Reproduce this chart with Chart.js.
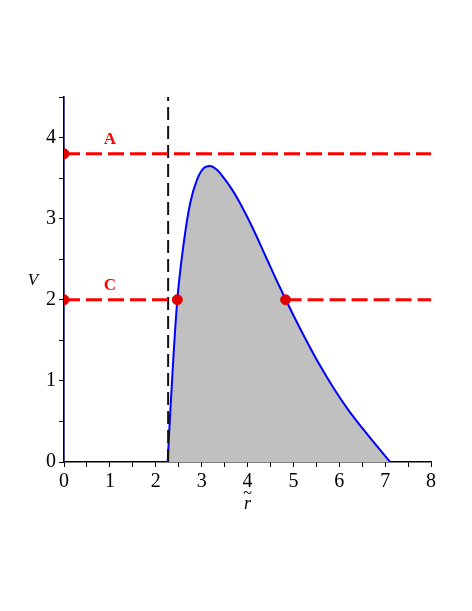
<!DOCTYPE html>
<html lang="en">
<head>
  <meta charset="UTF-8">
  <title>V vs r</title>
  <style>
    body {
      margin: 0;
      background-color: #ffffff;
    }
    canvas {
      display: block;
    }
  </style>
</head>
<body>
  <canvas id="chartCanvas" width="472" height="611"></canvas>

  <script src="https://cdn.jsdelivr.net/npm/chart.js"></script>
  <script>
    // curve
    const curveR = [2.26, 2.31, 2.38, 2.47, 2.61, 2.75, 2.90, 3.04, 3.18, 3.34, 3.50, 3.65, 3.80, 4.10, 4.40, 4.70, 5.00, 5.30, 5.60, 5.90, 6.20, 6.50, 6.80, 7.11];
    const curveV = [0.00, 0.55, 1.25, 2.00, 2.70, 3.19, 3.48, 3.62, 3.65, 3.60, 3.49, 3.37, 3.23, 2.90, 2.53, 2.16, 1.81, 1.48, 1.17, 0.89, 0.64, 0.42, 0.21, 0.00];

    const asymptoteR = 2.27;
    const levelA = 3.8;
    const levelC = 2.0;
    const turningR = [2.47, 4.83];

    const xTicks = [0, 1, 2, 3, 4, 5, 6, 7, 8];
    const yTicks = [0, 1, 2, 3, 4];

    const levelNames = ['A', 'C'];
    const nameAt = [1.0, 1.0];
    const nameV = [3.98, 2.18];

    const serif = "'Liberation Serif', 'DejaVu Serif', serif";
    const red = '#ff0000';

    const curve = curveR.map((r, i) => ({ x: r, y: curveV[i] }));
    const dots = [
      { x: 0, y: levelA },
      { x: 0, y: levelC },
      { x: turningR[0], y: levelC },
      { x: turningR[1], y: levelC }
    ];

    const textPlugin = {
      id: 'texts',
      afterDraw(chart) {
        const c = chart.ctx;
        const xs = chart.scales.x, ys = chart.scales.y;
        c.save();
        c.fillStyle = red;
        c.font = 'bold 17px ' + serif;
        c.textAlign = 'center';
        c.textBaseline = 'middle';
        levelNames.forEach((n, i) => {
          c.fillText(n, xs.getPixelForValue(nameAt[i]), ys.getPixelForValue(nameV[i]));
        });
        c.fillStyle = '#000000';
        c.font = 'italic 17px ' + serif;
        c.fillText('V', 33, 281);
        const rx = xs.getPixelForValue(4);
        c.font = 'italic 18px ' + serif;
        c.fillText('r', rx, 504);
        c.font = '16px ' + serif;
        c.fillText('~', rx, 494);
        c.restore();
      }
    };

    const ctx = document.getElementById('chartCanvas').getContext('2d');
    new Chart(ctx, {
      type: 'scatter',
      data: {
        datasets: [
          {
            data: dots,
            backgroundColor: '#e00000',
            borderColor: '#e00000',
            pointRadius: 5,
            showLine: false,
            order: 0
          },
          {
            data: [{ x: 0, y: levelA }, { x: 8, y: levelA }],
            showLine: true,
            borderColor: red,
            borderWidth: 3,
            borderDash: [16, 6],
            pointRadius: 0,
            order: 1
          },
          {
            data: [{ x: 0, y: levelC }, { x: asymptoteR, y: levelC }],
            showLine: true,
            borderColor: red,
            borderWidth: 3,
            borderDash: [16, 6],
            pointRadius: 0,
            order: 1
          },
          {
            data: [{ x: turningR[1], y: levelC }, { x: 8, y: levelC }],
            showLine: true,
            borderColor: red,
            borderWidth: 3,
            borderDash: [16, 6],
            pointRadius: 0,
            order: 1
          },
          {
            data: [{ x: asymptoteR, y: 0 }, { x: asymptoteR, y: 4.5 }],
            showLine: true,
            borderColor: '#111111',
            borderWidth: 2,
            borderDash: [13, 6],
            pointRadius: 0,
            order: 2
          },
          {
            data: [{ x: 0, y: 0 }, { x: 0, y: 4.5 }],
            showLine: true,
            borderColor: '#2020c0',
            borderWidth: 1,
            pointRadius: 0,
            order: 2
          },
          {
            data: curve,
            showLine: true,
            borderColor: '#0000ff',
            borderWidth: 2,
            backgroundColor: '#c0c0c0',
            fill: 'origin',
            cubicInterpolationMode: 'monotone',
            pointRadius: 0,
            order: 3
          }
        ]
      },
      options: {
        responsive: false,
        animation: false,
        layout: { padding: { left: 0, top: 97, right: 41, bottom: 99 } },
        scales: {
          x: {
            min: 0,
            max: 8,
            afterFit: s => { s.height = 50; },
            afterBuildTicks: s => {
              s.ticks = [];
              for (let v = 0; v <= 8; v += 0.5) s.ticks.push({ value: v });
            },
            grid: { drawOnChartArea: false, tickLength: 5, color: '#000000', lineWidth: 1 },
            border: { color: '#000000', width: 1.5 },
            ticks: {
              color: '#000000',
              font: { family: serif, size: 20 },
              padding: 3,
              maxRotation: 0,
              autoSkip: false,
              callback: v => xTicks.includes(v) ? String(v) : ''
            }
          },
          y: {
            min: 0,
            max: 4.5,
            afterFit: s => { s.width = 64; },
            afterBuildTicks: s => {
              s.ticks = [];
              for (let v = 0; v <= 4.5; v += 0.5) s.ticks.push({ value: v });
            },
            grid: { drawOnChartArea: false, tickLength: 5, color: '#000000', lineWidth: 1 },
            border: { color: '#000000', width: 1.5 },
            ticks: {
              color: '#000000',
              font: { family: serif, size: 20 },
              padding: 3,
              autoSkip: false,
              callback: v => yTicks.includes(v) ? String(v) : ''
            }
          }
        },
        plugins: {
          legend: { display: false },
          tooltip: { enabled: false }
        }
      },
      plugins: [textPlugin]
    });
  </script>
</body>
</html>
